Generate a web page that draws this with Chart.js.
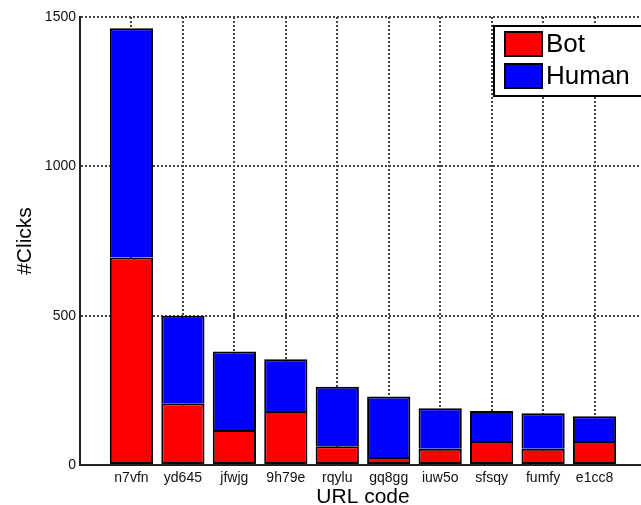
<!DOCTYPE html>
<html>
<head>
<meta charset="utf-8">
<script src="https://cdn.jsdelivr.net/npm/chart.js@4.4.0/dist/chart.umd.min.js"></script>
<style>
    html, body { margin: 0; padding: 0; background: #fff; overflow: hidden; }
    #wrap { width: 660px; height: 505px; }
</style>
</head>
<body>
<div id="wrap"><canvas id="clickChart" width="660" height="505"></canvas></div>
<script>
// URL codes along the x axis
const urlCodes = ['n7vfn', 'yd645', 'jfwjg', '9h79e', 'rqylu', 'gq8gg', 'iuw5o', 'sfsqy', 'fumfy', 'e1cc8'];
// clicks per URL
const botClicks = [695, 207, 117, 181, 63, 27, 54, 80, 54, 80];
const humanClicks = [767, 293, 263, 173, 199, 202, 136, 101, 119, 83];
// y axis ticks
const yTicks = [0, 500, 1000, 1500];

const fontFamily = '"Liberation Sans", Arial, Helvetica, sans-serif';

// bars sit at x = 1..10 on a linear axis running 0..11, like the original plot
function toPoints(values) {
    return values.map((v, i) => ({ x: i + 1, y: v }));
}

/**
 * Draws the boxed legend in the top right corner of the plot.
 */
const boxLegend = {
    id: 'boxLegend',
    afterDraw(chart) {
        const ctx = chart.ctx;
        const sets = chart.data.datasets;
        ctx.save();
        ctx.fillStyle = '#fff';
        ctx.fillRect(494, 26, 160, 70);
        ctx.lineWidth = 2;
        ctx.strokeStyle = '#000';
        ctx.strokeRect(494, 26, 160, 70);
        ctx.font = '26px ' + fontFamily;
        ctx.textBaseline = 'middle';
        sets.forEach((ds, i) => {
            const y = 32 + i * 32;
            ctx.fillStyle = ds.backgroundColor;
            ctx.fillRect(505, y, 37, 24);
            ctx.lineWidth = 2;
            ctx.strokeRect(505, y, 37, 24);
            ctx.fillStyle = '#000';
            ctx.fillText(ds.label, 546, y + 13);
        });
        ctx.restore();
    }
};

const ctx = document.getElementById('clickChart').getContext('2d');

new Chart(ctx, {
    type: 'bar',
    data: {
        datasets: [
            {
                label: 'Bot',
                data: toPoints(botClicks),
                backgroundColor: '#ff0000',
                borderColor: '#000',
                borderWidth: 2,
                borderSkipped: false,
                barPercentage: 1,
                categoryPercentage: 0.84
            },
            {
                label: 'Human',
                data: toPoints(humanClicks),
                backgroundColor: '#0000ff',
                borderColor: '#000',
                borderWidth: 2,
                barPercentage: 1,
                categoryPercentage: 0.84
            }
        ]
    },
    options: {
        responsive: false,
        animation: false,
        devicePixelRatio: 1,
        layout: { padding: { left: 0, top: 17, right: 14, bottom: 0 } },
        plugins: {
            legend: { display: false },
            tooltip: { enabled: false }
        },
        scales: {
            x: {
                type: 'linear',
                stacked: true,
                min: 0,
                max: urlCodes.length + 1,
                offset: false,
                grid: { offset: false, color: '#444', lineWidth: 2, drawTicks: false },
                border: { color: '#222', width: 2, dash: [2, 2] },
                ticks: {
                    stepSize: 1,
                    autoSkip: false,
                    maxRotation: 0,
                    padding: 5,
                    color: '#111',
                    font: { family: fontFamily, size: 14 },
                    callback: (v) => urlCodes[v - 1] || ''
                },
                title: {
                    display: true,
                    text: 'URL code',
                    color: '#000',
                    font: { family: fontFamily, size: 21, lineHeight: 1 },
                    padding: { top: 0, bottom: -3 }
                },
                afterFit: (scale) => { scale.height = 40; }
            },
            y: {
                stacked: true,
                min: yTicks[0],
                max: yTicks[yTicks.length - 1],
                grid: { color: '#444', lineWidth: 2, drawTicks: false },
                border: { color: '#222', width: 2, dash: [2, 2] },
                ticks: {
                    stepSize: 500,
                    padding: 4,
                    color: '#111',
                    font: { family: fontFamily, size: 14 },
                    callback: (v) => String(v)
                },
                title: {
                    display: true,
                    text: '#Clicks',
                    color: '#000',
                    font: { family: fontFamily, size: 21, lineHeight: 1 },
                    padding: { top: 15, bottom: 0 }
                },
                afterFit: (scale) => { scale.width = 80; }
            }
        }
    },
    plugins: [boxLegend]
});
</script>
</body>
</html>
